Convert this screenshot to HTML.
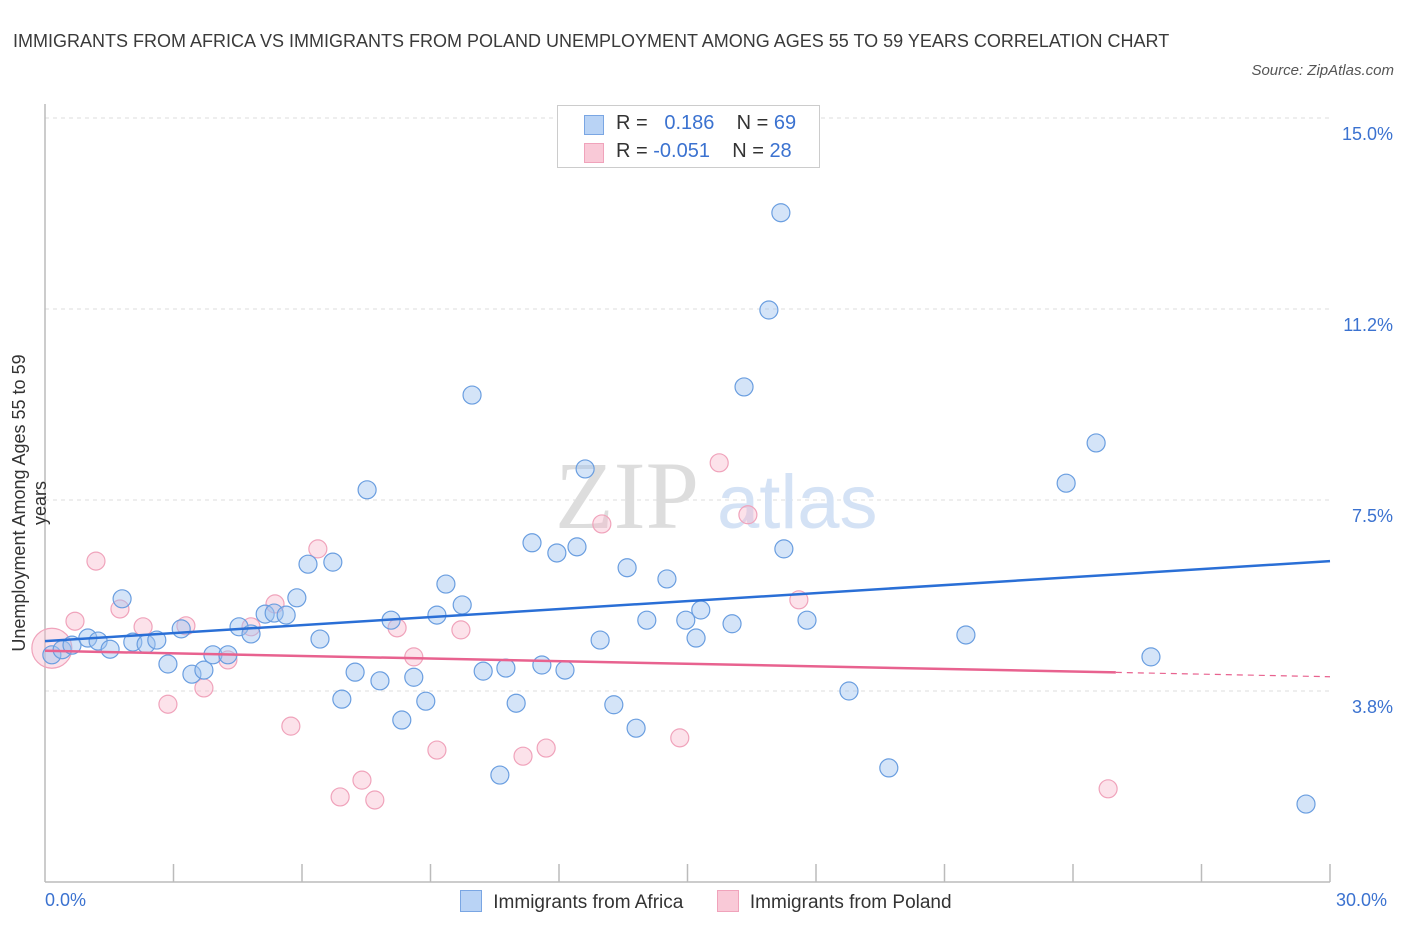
<!DOCTYPE html>
<html><head><meta charset="utf-8"><style>
body{margin:0;background:#fff;font-family:"Liberation Sans",sans-serif}
#wrap{position:relative;width:1406px;height:930px}
.t{position:absolute;color:#333}
</style></head><body><div id="wrap">
<div class="t" style="left:13px;top:22px;font-size:18px;line-height:38px;color:#3a3a3a;width:1180px">IMMIGRANTS FROM AFRICA VS IMMIGRANTS FROM POLAND UNEMPLOYMENT AMONG AGES 55 TO 59 YEARS CORRELATION CHART</div>
<div class="t" style="right:12px;top:62px;font-size:15px;font-style:italic;color:#555">Source: ZipAtlas.com</div>
<svg id="svg" width="1406" height="930" style="position:absolute;left:0;top:0"></svg>
</div>
<script>
const blueX=[0.16,0.40,0.63,1.00,1.24,1.52,1.80,2.05,2.36,2.61,2.87,3.18,3.43,3.71,3.92,4.27,4.53,4.81,5.14,5.35,5.63,5.88,6.14,6.42,6.72,6.93,7.24,7.52,7.82,8.08,8.33,8.61,8.89,9.15,9.36,9.74,9.97,10.23,10.62,10.76,11.00,11.37,11.60,11.95,12.14,12.42,12.61,12.96,13.28,13.59,13.80,14.05,14.52,14.96,15.20,15.31,16.04,16.32,16.90,17.18,17.25,17.79,18.77,19.70,21.50,23.84,24.54,25.82,29.44];
const blueY=[4.46,4.56,4.65,4.79,4.73,4.57,5.56,4.71,4.67,4.75,4.28,4.97,4.08,4.16,4.46,4.46,5.01,4.87,5.26,5.28,5.24,5.58,6.24,4.77,6.28,3.59,4.12,7.70,3.95,5.14,3.18,4.02,3.55,5.24,5.85,5.44,9.56,4.14,2.10,4.20,3.51,6.66,4.26,6.46,4.16,6.58,8.11,4.75,3.48,6.17,3.02,5.14,5.95,5.14,4.79,5.34,5.07,9.72,11.23,13.14,6.54,5.14,3.75,2.24,4.85,7.83,8.62,4.42,1.53];
const pinkX=[0.16,0.70,1.19,1.75,2.29,2.87,3.29,3.71,4.27,4.81,5.37,5.74,6.37,6.89,7.40,7.70,8.22,8.61,9.15,9.71,11.16,11.70,13.00,14.82,15.74,16.41,17.60,24.82];
const pinkY=[4.59,5.12,6.30,5.36,5.01,3.49,5.03,3.81,4.36,5.01,5.46,3.06,6.54,1.67,2.00,1.61,4.99,4.42,2.59,4.95,2.47,2.63,7.03,2.83,8.23,7.21,5.54,1.83];
const yTicks=[15.0,11.2,7.5,3.8];
const yTickLabels=["15.0%","11.2%","7.5%","3.8%"];
const blueTrend=[4.73,6.30];
const pinkTrend=[4.54,4.03];
const pinkSolidEnd=25.0;

const NS="http://www.w3.org/2000/svg";
const svg=document.getElementById('svg');
const X=v=>45+v/30*1285;
const Y=v=>882-v/3.75*191;
function mk(tag,attrs,parent){const e=document.createElementNS(NS,tag);for(const k in attrs)e.setAttribute(k,attrs[k]);(parent||svg).appendChild(e);return e;}
// gridlines & labels
yTicks.forEach((v,i)=>{
 const gv=[15,11.25,7.5,3.75][i];
 const g=mk('line',{x1:45,x2:1330,y1:Y(gv),y2:Y(gv),stroke:'#ddd','stroke-dasharray':'4,4'});
 
 
 const t=mk('text',{x:1393,y:Y(gv)+22,'text-anchor':'end','font-size':18,fill:'#3b72d0'});
 t.textContent=yTickLabels[i];
 
 
});
// axes
const ax=mk('line',{x1:45,x2:1330,y1:882,y2:882,stroke:'#bbb','stroke-width':1.5});


const ay=mk('line',{x1:45,x2:45,y1:104,y2:882,stroke:'#bbb','stroke-width':1.5});


for(let i=1;i<=10;i++){const tk=mk('line',{x1:X(i*3),x2:X(i*3),y1:864,y2:882,stroke:'#bbb','stroke-width':1.5});
 
 }
// watermark
const w1=mk('text',{x:555,y:528,'font-size':96,'font-family':'Liberation Serif,serif',fill:'#ddd'});w1.textContent='ZIP';


const w2=mk('text',{x:717,y:528,'font-size':76,fill:'#d4e2f5'});w2.textContent='atlas';


// points
pinkX.forEach((x,i)=>{const c=mk('circle',{cx:X(x),cy:Y(pinkY[i]),r:i===0?20:9,fill:'rgba(247,182,202,0.4)',stroke:'#f0a3bb','stroke-width':1.2});
 
 });
blueX.forEach((x,i)=>{const c=mk('circle',{cx:X(x),cy:Y(blueY[i]),r:9,fill:'rgba(160,196,240,0.45)',stroke:'#6a9ee0','stroke-width':1.2});
 
 });
// trends
const bt=mk('line',{x1:X(0),y1:Y(blueTrend[0]),x2:X(30),y2:Y(blueTrend[1]),stroke:'#2a6fd6','stroke-width':2.5});


const pm=pinkTrend[0]+(pinkTrend[1]-pinkTrend[0])*pinkSolidEnd/30;
const pt=mk('line',{x1:X(0),y1:Y(pinkTrend[0]),x2:X(pinkSolidEnd),y2:Y(pm),stroke:'#e8628f','stroke-width':2.5});


const pd=mk('line',{x1:X(pinkSolidEnd),y1:Y(pm),x2:X(30),y2:Y(pinkTrend[1]),stroke:'#e8628f','stroke-width':1.2,'stroke-dasharray':'6,5'});


</script>
<div class="t" style="left:-135px;top:482px;width:330px;text-align:center;transform:rotate(-90deg);font-size:18px;color:#333">Unemployment Among Ages 55 to 59 years</div>
<div class="t" style="left:45px;top:890px;font-size:18px;color:#3b72d0">0.0%</div>
<div class="t" style="left:1336px;top:890px;font-size:18px;color:#3b72d0">30.0%</div>
<div style="position:absolute;left:557px;top:105px;width:261px;height:61px;border:1px solid #ccc;background:#fff;font-size:20px;color:#333">
 <div style="position:absolute;left:26px;top:9px;width:18px;height:18px;background:#b9d3f5;border:1px solid #7aa6e3"></div>
 <div style="position:absolute;left:58px;top:6px">R = &nbsp;<span style="color:#3b72d0">&nbsp;0.186</span>&nbsp;&nbsp;&nbsp;&nbsp;N = <span style="color:#3b72d0">69</span></div>
 <div style="position:absolute;left:26px;top:37px;width:18px;height:18px;background:#f9c9d7;border:1px solid #f0a3bb"></div>
 <div style="position:absolute;left:58px;top:34px">R = <span style="color:#3b72d0">-0.051</span>&nbsp;&nbsp;&nbsp;&nbsp;N = <span style="color:#3b72d0">28</span></div>
</div>
<div style="position:absolute;left:460px;top:890px;font-size:19px;color:#333;white-space:nowrap">
 <span style="display:inline-block;width:20px;height:20px;background:#b9d3f5;border:1px solid #7aa6e3;vertical-align:-4px"></span>
 <span style="margin-left:6px">Immigrants from Africa</span>
 <span style="display:inline-block;width:20px;height:20px;background:#f9c9d7;border:1px solid #f0a3bb;vertical-align:-4px;margin-left:28px"></span>
 <span style="margin-left:6px">Immigrants from Poland</span>
</div>
</body></html>
